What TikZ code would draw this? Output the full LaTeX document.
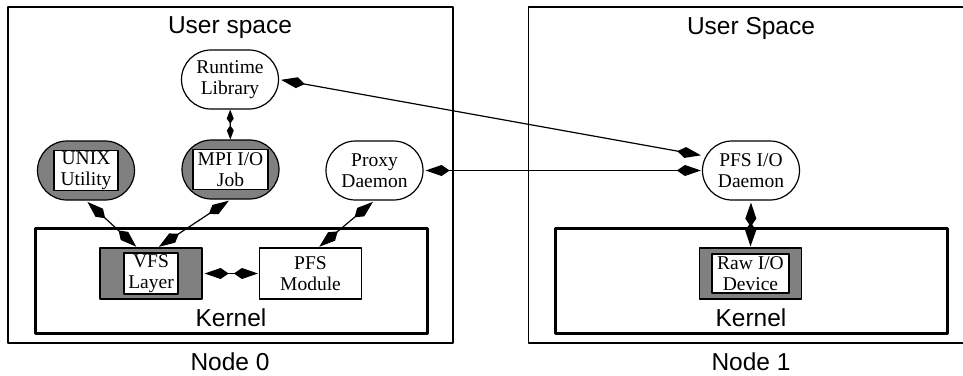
\documentclass[tikz,border=0pt]{standalone}
\usepackage{fontspec}
\setmainfont{Liberation Serif}
\setsansfont{Liberation Sans}
\usetikzlibrary{arrows.meta,shapes.misc}
\begin{document}
\begin{tikzpicture}[x=1pt,y=-1pt,line join=round,line width=1.2pt,
  >={Kite[length=24pt,width=11pt,inset=8pt]},
  big/.style={font=\sffamily\fontsize{24.5}{26}\selectfont},
  nodebox/.style={draw,line width=1.2pt,minimum width=445pt,minimum height=336pt},
  kernbox/.style={draw,line width=3pt,minimum width=392pt,minimum height=105pt},
  proc/.style={draw,rounded rectangle,line width=1.2pt,minimum width=97pt,minimum height=59pt,inner sep=0pt},
  mod/.style={draw,line width=1.2pt,minimum width=102pt,minimum height=51pt,inner sep=0pt},
  lbl/.style={font=\fontsize{19.5}{20.5}\selectfont,align=center,inner sep=0pt},
  inbox/.style={lbl,draw,fill=white,line width=1.2pt,inner sep=1.5pt},
  link/.style={<->,shorten <=2pt,shorten >=1pt},
  small/.style={{Kite[length=14pt,width=7pt,inset=5pt]}-{Kite[length=14pt,width=7pt,inset=5pt]}}]
\useasboundingbox (0,0) rectangle (963,375);
\begin{scope}
\clip (0,0) rectangle (963,375);
% the two machines
\node[nodebox] (n0) at (230.5,175) {};
\node[nodebox] (n1) at (751,175) {};
\node[kernbox] (k0) at (231,280.5) {};
\node[kernbox] (k1) at (751,280.5) {};
\end{scope}
\node[big] at (230,28) {User space};
\node[big] at (751,28) {User Space};
\node[big] at (231,318) {Kernel};
\node[big] at (751,318) {Kernel};
\node[big] at (230,362) {Node 0};
\node[big] at (751,362) {Node 1};
% user processes
\node[proc] (rt) at (230,79.5) {};
\node[lbl] at (rt) {Runtime\\Library};
\node[proc,fill=gray] (unix) at (86,170.5) {};
\node[inbox,minimum width=64pt,minimum height=40pt] at (unix) {UNIX\\Utility};
\node[proc,fill=gray] (mpi) at (230.5,169.5) {};
\node[inbox,minimum width=75pt,minimum height=40pt] at (mpi) {MPI I/O\\Job};
\node[proc] (proxy) at (374.5,170.5) {};
\node[lbl] at (proxy) {Proxy\\Daemon};
\node[proc] (iod) at (751,170.5) {};
\node[lbl] at (iod) {PFS I/O\\Daemon};
% kernel parts
\node[mod,fill=gray] (vfs) at (151,273.5) {};
\node[inbox,minimum width=54pt,minimum height=41pt] at (vfs) {VFS\\Layer};
\node[mod] (pfs) at (310.5,273.5) {};
\node[lbl] at (pfs) {PFS\\Module};
\node[mod,fill=gray] (raw) at (750.5,273.5) {};
\node[inbox,minimum width=77pt,minimum height=39pt] at (raw) {Raw I/O\\Device};
% link ends
\coordinate (vfsl) at ([xshift=-14pt]vfs.north);
\coordinate (vfsr) at ([xshift=7pt]vfs.north);
\coordinate (pfsn) at ([xshift=8pt]pfs.north);
\coordinate (iodn) at ([yshift=15pt]iod.west);
% links
\draw[small] (rt) -- (mpi);
\draw[link] (unix.south) -- (vfsl);
\draw[link] (mpi.south) -- (vfsr);
\draw[link] (proxy.south) -- (pfsn);
\draw[link] (vfs.east) -- (pfs.west);
\draw[link] (rt.east) -- (iodn);
\draw[link] (proxy.east) -- (iod.west);
\draw[link] (iod.south) -- (raw.north);
\end{tikzpicture}
\end{document}
